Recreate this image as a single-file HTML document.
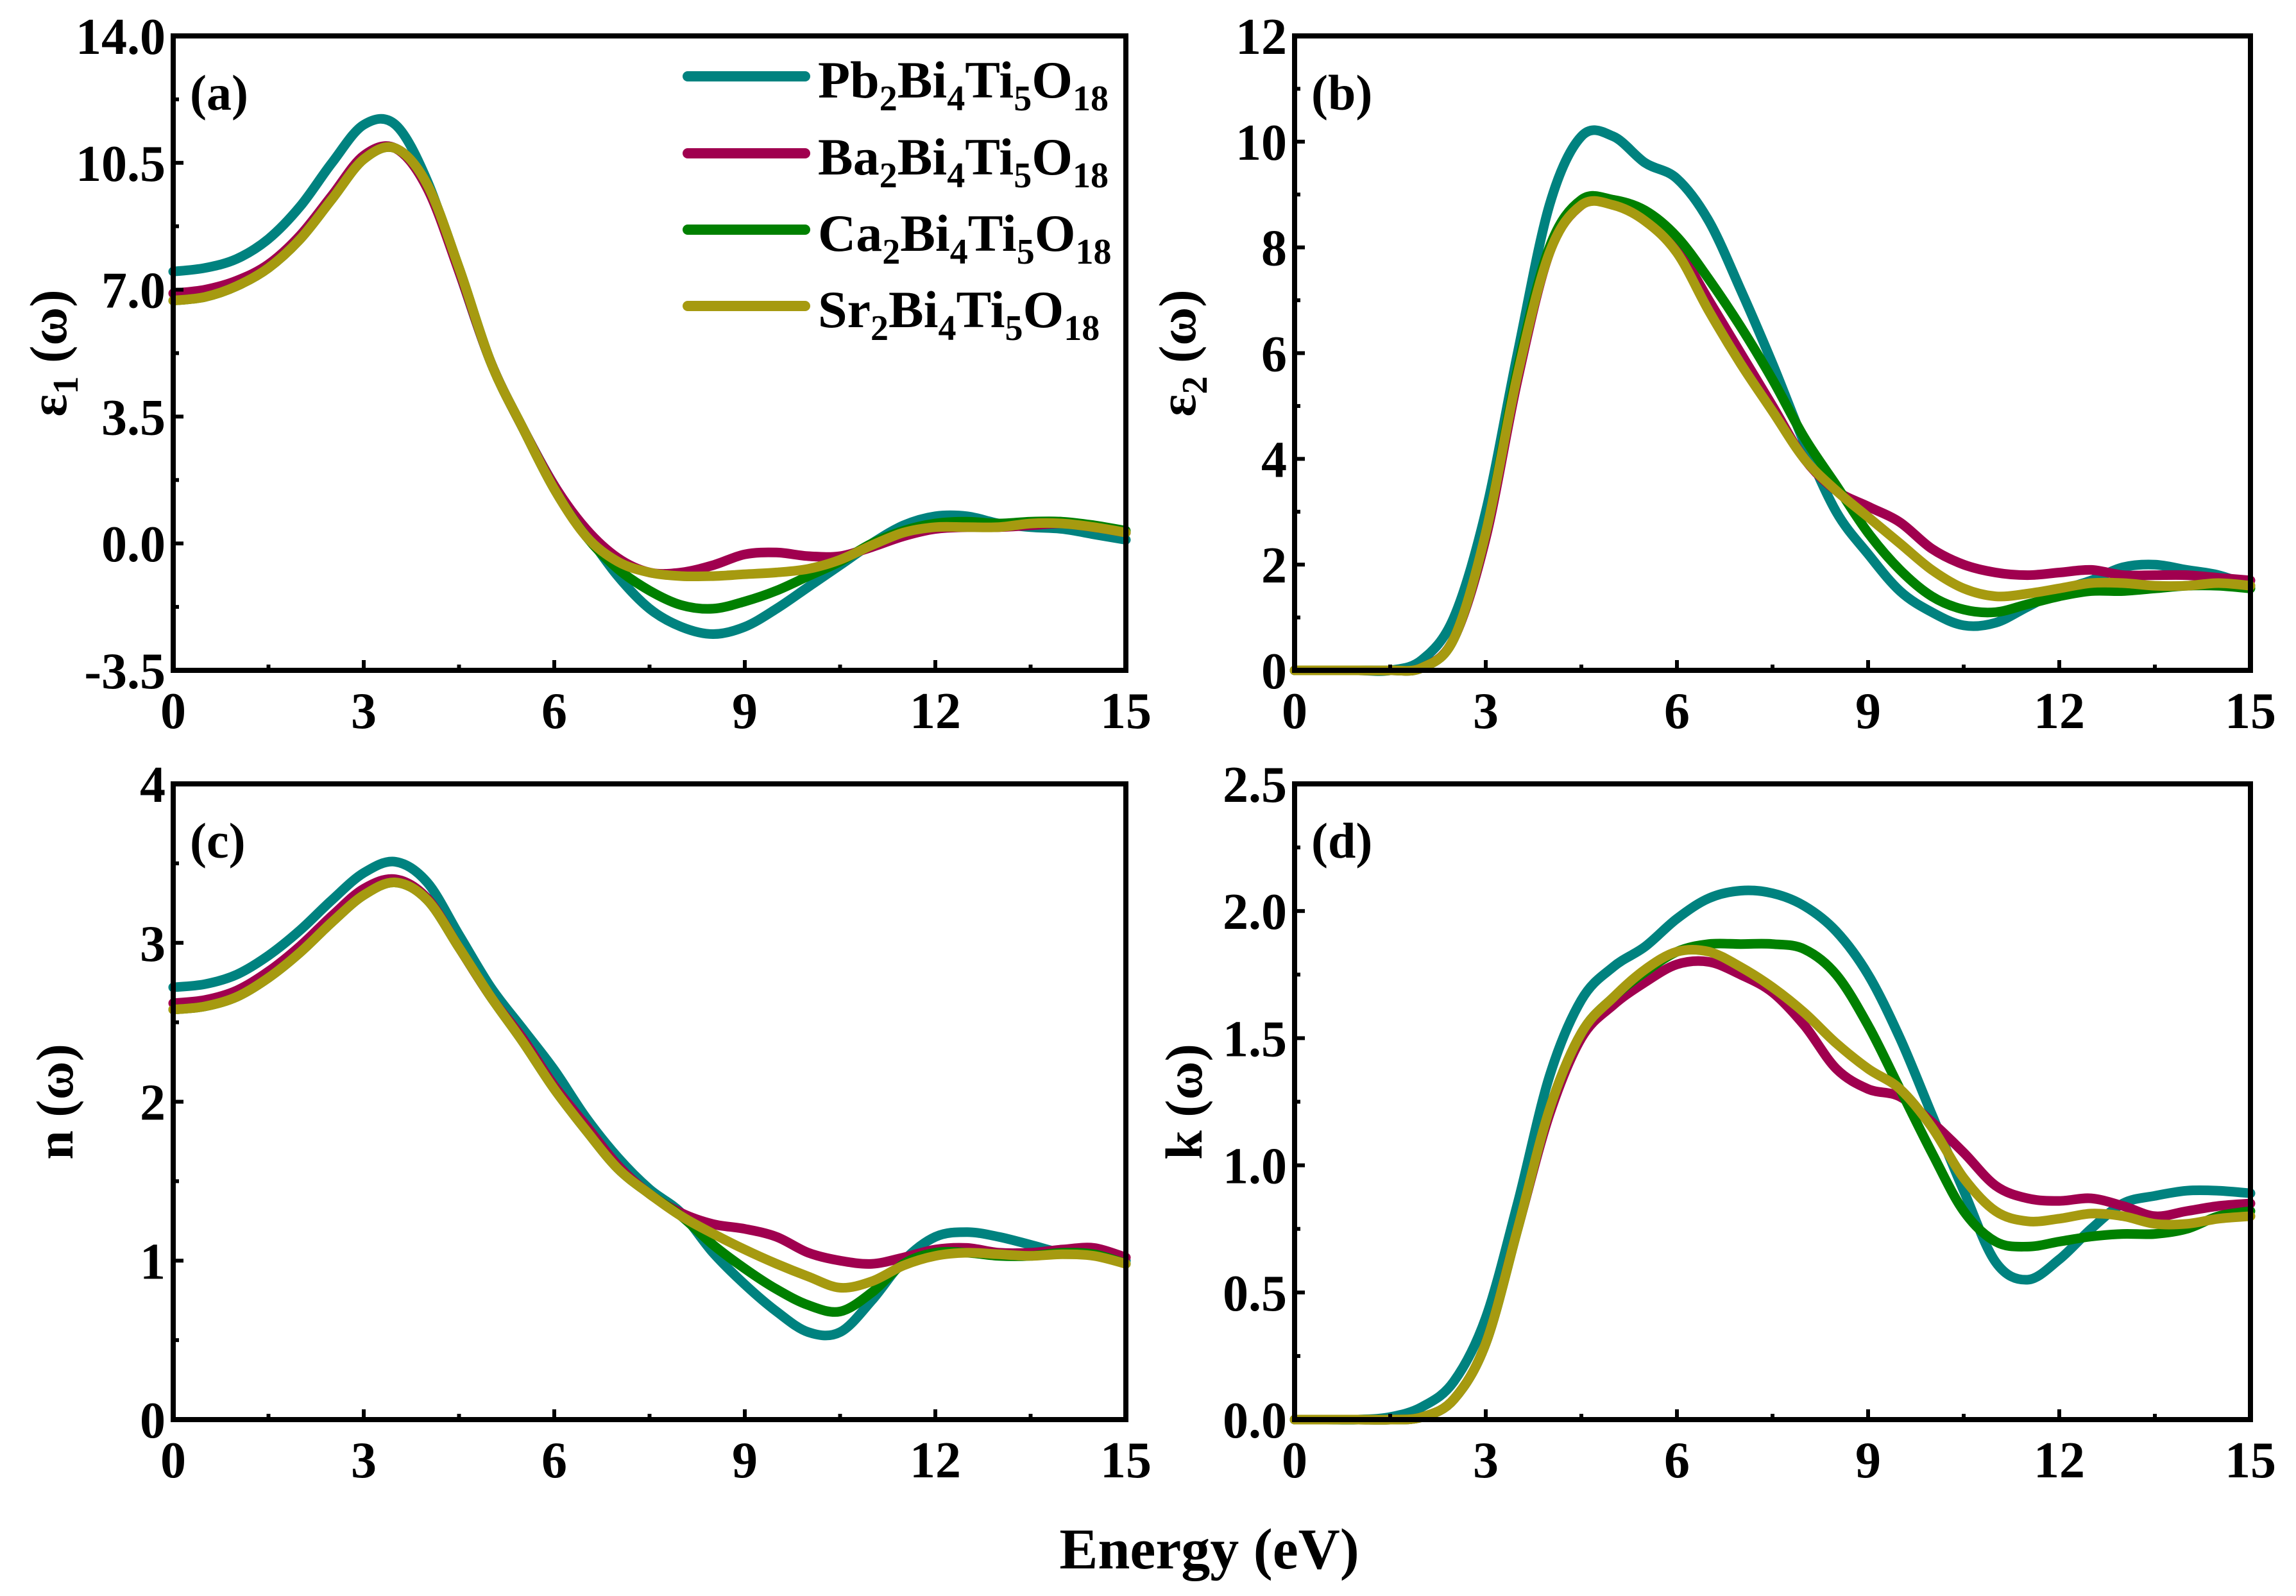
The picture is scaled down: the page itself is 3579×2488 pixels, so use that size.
<!DOCTYPE html>
<html><head><meta charset="utf-8">
<style>
html,body{margin:0;padding:0;background:#fff;}
svg{display:block;}
text{font-family:"Liberation Serif",serif;font-weight:bold;fill:#000;}
</style></head>
<body>
<svg id="chart" width="3579" height="2488" viewBox="0 0 3579 2488" xmlns="http://www.w3.org/2000/svg">
<g id="legend">
  <g><line x1="1072" y1="119" x2="1255" y2="119" stroke="#00827f" stroke-width="16" stroke-linecap="round"/><text x="1275" y="152" font-size="82">Pb<tspan font-size="56" dy="20">2</tspan><tspan dy="-20">Bi</tspan><tspan font-size="56" dy="20">4</tspan><tspan dy="-20">Ti</tspan><tspan font-size="56" dy="20">5</tspan><tspan dy="-20">O</tspan><tspan font-size="56" dy="20">18</tspan></text></g>
  <g><line x1="1072" y1="239" x2="1255" y2="239" stroke="#a0004f" stroke-width="16" stroke-linecap="round"/><text x="1275" y="272" font-size="82">Ba<tspan font-size="56" dy="20">2</tspan><tspan dy="-20">Bi</tspan><tspan font-size="56" dy="20">4</tspan><tspan dy="-20">Ti</tspan><tspan font-size="56" dy="20">5</tspan><tspan dy="-20">O</tspan><tspan font-size="56" dy="20">18</tspan></text></g>
  <g><line x1="1072" y1="358" x2="1255" y2="358" stroke="#008000" stroke-width="16" stroke-linecap="round"/><text x="1275" y="391" font-size="82">Ca<tspan font-size="56" dy="20">2</tspan><tspan dy="-20">Bi</tspan><tspan font-size="56" dy="20">4</tspan><tspan dy="-20">Ti</tspan><tspan font-size="56" dy="20">5</tspan><tspan dy="-20">O</tspan><tspan font-size="56" dy="20">18</tspan></text></g>
  <g><line x1="1072" y1="477" x2="1255" y2="477" stroke="#a69a10" stroke-width="16" stroke-linecap="round"/><text x="1275" y="510" font-size="82">Sr<tspan font-size="56" dy="20">2</tspan><tspan dy="-20">Bi</tspan><tspan font-size="56" dy="20">4</tspan><tspan dy="-20">Ti</tspan><tspan font-size="56" dy="20">5</tspan><tspan dy="-20">O</tspan><tspan font-size="56" dy="20">18</tspan></text></g>
</g>
<text x="1885" y="2445" font-size="90" text-anchor="middle">Energy (eV)</text>
</svg>
<script>
const energies = [0,0.5,1,1.5,2,2.5,3,3.5,4,4.5,5,5.5,6,6.5,7,7.5,8,8.5,9,9.5,10,10.5,11,11.5,12,12.5,13,13.5,14,14.5,15];
const seriesNames = ['Pb2Bi4Ti5O18','Ba2Bi4Ti5O18','Ca2Bi4Ti5O18','Sr2Bi4Ti5O18'];
const seriesColors = ['#00827f','#a0004f','#008000','#a69a10'];
// panel (a) eps1
const eps1Pb = [7.5,7.6,7.85,8.4,9.3,10.5,11.55,11.55,10.0,7.5,5.0,3.2,1.6,0.3,-0.9,-1.8,-2.3,-2.5,-2.3,-1.8,-1.2,-0.6,0.0,0.5,0.75,0.75,0.55,0.45,0.4,0.25,0.1];
const eps1Ba = [6.9,7.0,7.25,7.7,8.5,9.6,10.7,10.9,9.8,7.5,5.0,3.2,1.6,0.4,-0.4,-0.8,-0.8,-0.6,-0.3,-0.25,-0.35,-0.35,-0.1,0.2,0.4,0.45,0.45,0.5,0.55,0.45,0.3];
const eps1Ca = [6.7,6.8,7.1,7.6,8.4,9.5,10.6,10.9,9.9,7.6,5.0,3.2,1.5,0.2,-0.7,-1.3,-1.7,-1.8,-1.6,-1.3,-0.9,-0.5,0.0,0.35,0.55,0.6,0.55,0.6,0.6,0.5,0.35];
const eps1Sr = [6.7,6.8,7.1,7.6,8.4,9.5,10.6,10.9,9.9,7.6,5.0,3.2,1.5,0.2,-0.5,-0.8,-0.9,-0.9,-0.85,-0.8,-0.7,-0.45,-0.05,0.3,0.45,0.45,0.45,0.55,0.55,0.45,0.3];
// panel (b) eps2
const eps2Pb = [0,0,0,0,0.2,1.0,3.0,6.0,8.8,10.1,10.1,9.6,9.3,8.5,7.2,5.8,4.3,3.0,2.2,1.5,1.1,0.85,0.9,1.2,1.5,1.7,1.95,2.0,1.9,1.8,1.6];
const eps2Ba = [0,0,0,0,0.05,0.6,2.5,5.5,7.9,8.8,8.9,8.6,8.0,7.0,6.0,5.0,4.0,3.4,3.1,2.8,2.3,2.0,1.85,1.8,1.85,1.9,1.8,1.8,1.8,1.75,1.7];
const eps2Ca = [0,0,0,0,0.05,0.6,2.6,5.7,8.0,8.9,8.9,8.7,8.2,7.4,6.5,5.5,4.4,3.5,2.6,1.9,1.4,1.15,1.1,1.25,1.4,1.5,1.5,1.55,1.6,1.6,1.55];
const eps2Sr = [0,0,0,0,0.05,0.6,2.6,5.6,7.9,8.8,8.8,8.5,7.9,6.8,5.8,4.9,4.0,3.4,2.9,2.4,1.9,1.55,1.4,1.45,1.55,1.65,1.65,1.6,1.6,1.65,1.6];
// panel (c) n
const nPb = [2.72,2.74,2.8,2.92,3.08,3.27,3.44,3.51,3.38,3.05,2.72,2.46,2.2,1.9,1.65,1.45,1.3,1.05,0.85,0.68,0.55,0.55,0.75,1.0,1.15,1.18,1.15,1.1,1.05,1.05,1.0];
const nBa = [2.62,2.64,2.7,2.82,2.98,3.17,3.34,3.4,3.28,2.97,2.66,2.4,2.1,1.85,1.6,1.42,1.3,1.23,1.2,1.15,1.05,1.0,0.98,1.02,1.07,1.08,1.05,1.05,1.07,1.08,1.02];
const nCa = [2.58,2.6,2.66,2.78,2.94,3.13,3.3,3.38,3.27,2.97,2.66,2.38,2.08,1.82,1.58,1.42,1.28,1.1,0.95,0.82,0.72,0.68,0.8,0.98,1.05,1.05,1.03,1.03,1.05,1.04,0.98];
const nSr = [2.58,2.6,2.66,2.78,2.94,3.13,3.3,3.38,3.27,2.97,2.66,2.38,2.08,1.82,1.58,1.42,1.28,1.17,1.07,0.98,0.9,0.83,0.87,0.97,1.03,1.05,1.04,1.03,1.04,1.03,0.98];
// panel (d) k
const kPb = [0,0,0,0.01,0.05,0.15,0.4,0.85,1.35,1.65,1.78,1.86,1.97,2.05,2.08,2.07,2.02,1.92,1.75,1.5,1.2,0.9,0.62,0.55,0.63,0.75,0.85,0.88,0.9,0.9,0.89];
const kBa = [0,0,0,0,0.01,0.08,0.3,0.75,1.2,1.5,1.63,1.72,1.79,1.8,1.75,1.68,1.55,1.38,1.3,1.27,1.17,1.05,0.92,0.87,0.86,0.87,0.84,0.8,0.82,0.84,0.85];
const kCa = [0,0,0,0,0.01,0.08,0.3,0.75,1.22,1.52,1.66,1.76,1.84,1.87,1.87,1.87,1.85,1.75,1.55,1.3,1.05,0.82,0.7,0.68,0.7,0.72,0.73,0.73,0.75,0.8,0.82];
const kSr = [0,0,0,0,0.01,0.08,0.3,0.75,1.22,1.52,1.66,1.77,1.84,1.84,1.78,1.7,1.6,1.48,1.38,1.3,1.15,0.95,0.82,0.78,0.79,0.81,0.8,0.77,0.77,0.79,0.8];
const xTicks = [0,3,6,9,12,15];
const yTicksA = ['-3.5','0.0','3.5','7.0','10.5','14.0'];
const yTicksB = ['0','2','4','6','8','10','12'];
const yTicksC = ['0','1','2','3','4'];
const yTicksD = ['0.0','0.5','1.0','1.5','2.0','2.5'];

const NS='http://www.w3.org/2000/svg';
const svg=document.getElementById('chart');
function mk(tag,attrs,parent){const e=document.createElementNS(NS,tag);for(const k in attrs)e.setAttribute(k,attrs[k]);(parent||svg).appendChild(e);return e;}

const panels=[
 {id:'a',x0:270,x1:1755,y0:56,y1:1045,ticks:yTicksA,series:[eps1Pb,eps1Ba,eps1Ca,eps1Sr],ylab:'ε',sub:'1',lx:75},
 {id:'b',x0:2018,x1:3508,y0:56,y1:1045,ticks:yTicksB,series:[eps2Pb,eps2Ba,eps2Ca,eps2Sr],ylab:'ε',sub:'2',lx:1835},
 {id:'c',x0:270,x1:1755,y0:1222,y1:2213,ticks:yTicksC,series:[nPb,nBa,nCa,nSr],ylab:'n',sub:'',lx:85},
 {id:'d',x0:2018,x1:3508,y0:1222,y1:2213,ticks:yTicksD,series:[kPb,kBa,kCa,kSr],ylab:'k',sub:'',lx:1845}
];

function path(pts){
 let d='M'+pts[0][0].toFixed(1)+','+pts[0][1].toFixed(1);
 for(let i=0;i<pts.length-1;i++){
  const p0=pts[Math.max(0,i-1)],p1=pts[i],p2=pts[i+1],p3=pts[Math.min(pts.length-1,i+2)];
  const c1=[p1[0]+(p2[0]-p0[0])/6,p1[1]+(p2[1]-p0[1])/6];
  const c2=[p2[0]-(p3[0]-p1[0])/6,p2[1]-(p3[1]-p1[1])/6];
  d+='C'+c1[0].toFixed(1)+','+c1[1].toFixed(1)+' '+c2[0].toFixed(1)+','+c2[1].toFixed(1)+' '+p2[0].toFixed(1)+','+p2[1].toFixed(1);
 }
 return d;
}

panels.forEach(p=>{
 const g=mk('g',{});
 
 
 const ymin=parseFloat(p.ticks[0]),ymax=parseFloat(p.ticks[p.ticks.length-1]);
 const X=v=>p.x0+(v-0)/(15-0)*(p.x1-p.x0);
 const Y=v=>p.y1-(v-ymin)/(ymax-ymin)*(p.y1-p.y0);
 p.series.forEach((s,si)=>{
  const pts=energies.map((e,i)=>[X(e),Y(s[i])]);
  const pe=mk('path',{d:path(pts),fill:'none',stroke:seriesColors[si],'stroke-width':15,'stroke-linejoin':'round','stroke-linecap':'round'},g);
  
  
 });
 const fr=mk('rect',{x:p.x0,y:p.y0,width:p.x1-p.x0,height:p.y1-p.y0,fill:'none',stroke:'#000','stroke-width':8},g);
 
 
 xTicks.forEach((t,i)=>{
  mk('line',{x1:X(t),x2:X(t),y1:p.y1,y2:p.y1-16,stroke:'#000','stroke-width':6},g);
  if(i<xTicks.length-1){const m=t+1.5;mk('line',{x1:X(m),x2:X(m),y1:p.y1,y2:p.y1-9,stroke:'#000','stroke-width':6},g);}
  const tl=mk('text',{x:X(t),y:p.y1+90,'font-size':80,'text-anchor':'middle'},g);
  tl.textContent=t;
  
  
 });
 p.ticks.forEach((t,i)=>{
  const v=parseFloat(t);
  mk('line',{x1:p.x0,x2:p.x0+16,y1:Y(v),y2:Y(v),stroke:'#000','stroke-width':6},g);
  if(i<p.ticks.length-1){const m=(v+parseFloat(p.ticks[i+1]))/2;mk('line',{x1:p.x0,x2:p.x0+9,y1:Y(m),y2:Y(m),stroke:'#000','stroke-width':6},g);}
  const tl=mk('text',{x:p.x0-12,y:Y(v)+28,'font-size':80,'text-anchor':'end'},g);
  tl.textContent=t;
  
  
 });
 const pl=mk('text',{x:p.x0+26,y:p.y0+115,'font-size':78},g);
 pl.textContent='('+p.id+')';
 
 
 const cy=(p.y0+p.y1)/2;
 const yt=mk('text',{x:p.lx+28,y:cy,'font-size':82,'text-anchor':'middle',transform:'rotate(-90 '+(p.lx+28)+' '+cy+')'},g);
 
 
 const t1=document.createElementNS(NS,'tspan');t1.textContent=p.ylab;yt.appendChild(t1);
 if(p.sub){const t2=document.createElementNS(NS,'tspan');t2.setAttribute('font-size','56');t2.setAttribute('dy','18');t2.textContent=p.sub;yt.appendChild(t2);
  const t3=document.createElementNS(NS,'tspan');t3.setAttribute('dy','-18');t3.textContent=' (ω)';yt.appendChild(t3);}
 else{const t3=document.createElementNS(NS,'tspan');t3.textContent=' (ω)';yt.appendChild(t3);}
});
svg.appendChild(document.getElementById('legend'));
</script>
</body></html>
